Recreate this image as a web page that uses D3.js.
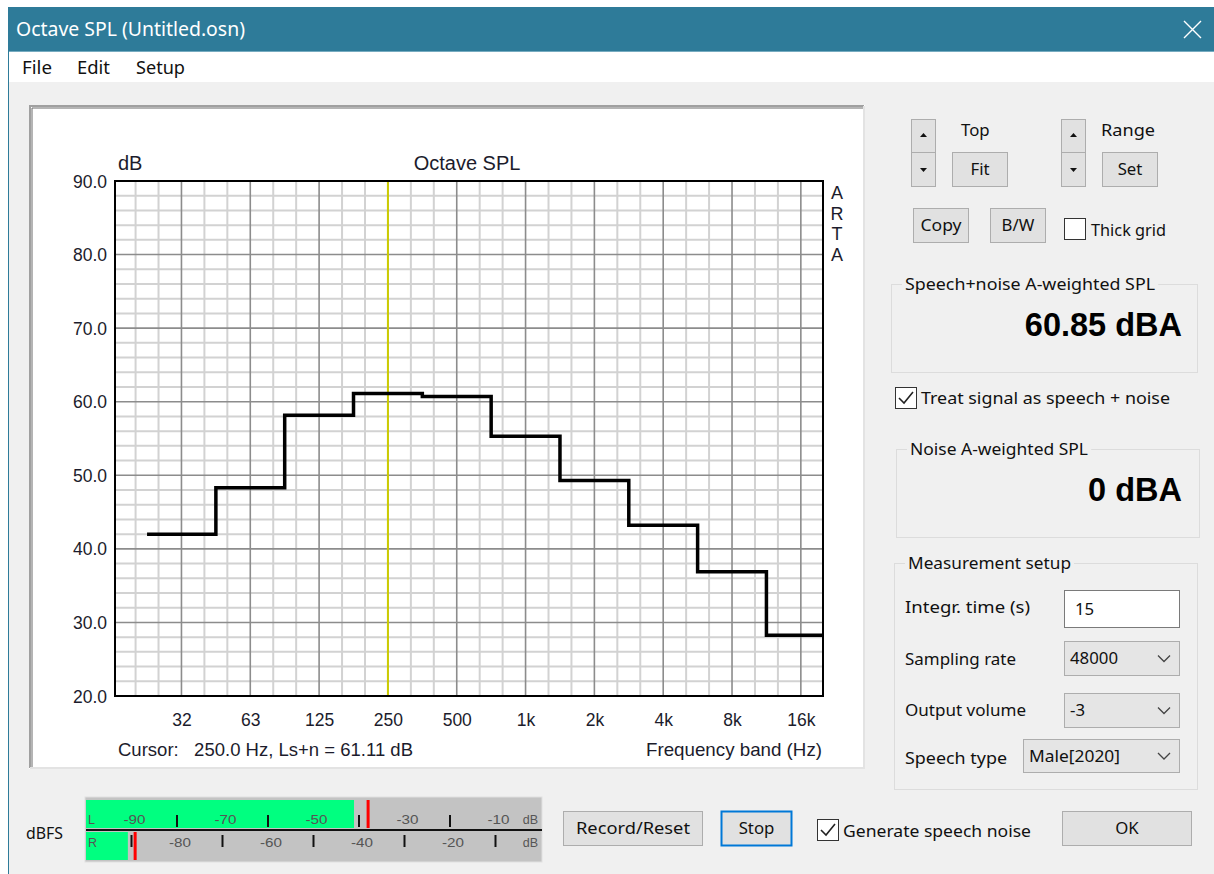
<!DOCTYPE html>
<html><head><meta charset="utf-8">
<script src="https://cdn.jsdelivr.net/npm/d3@7"></script>
<style>html,body{margin:0;padding:0;background:#fff;overflow:hidden}svg{display:block}text{white-space:pre}</style>
</head><body>
<script>
// ---------- data ----------
const bandCenters = [31.25, 62.5, 125, 250, 500, 1000, 2000, 4000, 8000, 16000];
const bandLabels  = ["32","63","125","250","500","1k","2k","4k","8k","16k"];
const bandLevels  = [42.0, 48.3, 58.15, 61.11, 60.7, 55.3, 49.3, 43.2, 36.9, 28.25];
const yTickValues = [20, 30, 40, 50, 60, 70, 80, 90];
const cursorFreq = 250;
const cursorText = "Cursor:   250.0 Hz, Ls+n = 61.11 dB";
const meterChannels = ["L", "R"];
const meterLevels = [-41.1, -90.8];
const meterPeaks  = [-38.0, -89.2];
const meterLabelsL = [-90, -70, -50, -30, -10];
const meterMarksL  = [-80, -60, -40, -20];
const meterLabelsR = [-80, -60, -40, -20];
const meterMarksR  = [-90, -70, -50, -30, -10];
const speechNoiseSPL = "60.85 dBA";
const noiseSPL = "0 dBA";

// ---------- setup ----------
const W = 1214, H = 874;
const UI = "'Noto Sans', 'Open Sans', sans-serif";
const CH = "'Liberation Sans', Arial, sans-serif";
const svg = d3.select("body").append("svg").attr("width", W).attr("height", H);

function text(g, x, y, s, o = {}) {
  const t = g.append("text").attr("x", x).attr("y", y).attr("dy", "0.35em")
    .attr("font-family", o.ff || UI).attr("font-size", o.fs || 16.8)
    .attr("font-weight", o.fw || "normal")
    .attr("fill", o.fill || "#111")
    .attr("text-anchor", o.anchor || "start").text(s);
  if (o.w) t.attr("textLength", o.w).attr("lengthAdjust", "spacingAndGlyphs");
  return t;
}
function button(g, x0, y0, x1, y1, label, o = {}) {
  g.append("rect").attr("x", x0 + 0.5).attr("y", y0 + 0.5).attr("width", x1 - x0 - 1).attr("height", y1 - y0 - 1)
    .attr("fill", "#e1e1e1").attr("stroke", o.stroke || "#adadad").attr("stroke-width", o.sw || 1);
  if (label) text(g, (x0 + x1) / 2, (y0 + y1) / 2, label, { anchor: "middle", w: o.w });
}
function checkbox(g, x0, y0, size, checked) {
  g.append("rect").attr("x", x0 + 0.5).attr("y", y0 + 0.5).attr("width", size - 1).attr("height", size - 1)
    .attr("fill", "#fff").attr("stroke", "#333").attr("stroke-width", 1);
  if (checked) g.append("path")
    .attr("d", `M${x0 + 4},${y0 + 11} L${x0 + 9},${y0 + 16} L${x0 + 18},${y0 + 5}`)
    .attr("fill", "none").attr("stroke", "#222").attr("stroke-width", 1.6);
}
function groupBox(g, x0, y0, x1, y1, label, lx, w) {
  g.append("rect").attr("x", x0 + 0.5).attr("y", y0 + 0.5).attr("width", x1 - x0).attr("height", y1 - y0)
    .attr("fill", "none").attr("stroke", "#dcdcdc");
  const t = text(g, lx, y0, label, { w });
  const bb = t.node().getBBox();
  g.insert("rect", () => t.node()).attr("x", bb.x - 3).attr("y", y0 - 2).attr("width", bb.width + 6).attr("height", 5).attr("fill", "#f0f0f0");
}
function combo(g, x0, y0, x1, y1, val, w) {
  g.append("rect").attr("x", x0 + 0.5).attr("y", y0 + 0.5).attr("width", x1 - x0 - 1).attr("height", y1 - y0 - 1)
    .attr("fill", "#e5e5e5").attr("stroke", "#adadad");
  const cy = (y0 + y1) / 2;
  text(g, x0 + 6, cy, val, { w });
  g.append("path").attr("d", `M${x1 - 22},${cy - 3} L${x1 - 16},${cy + 3} L${x1 - 10},${cy - 3}`)
    .attr("fill", "none").attr("stroke", "#444").attr("stroke-width", 1.3);
}

// ---------- window chrome ----------
svg.append("rect").attr("width", W).attr("height", H).attr("fill", "#fff");
svg.append("rect").attr("x", 8).attr("y", 7).attr("width", W - 8).attr("height", H - 7).attr("fill", "#f0f0f0");
svg.append("rect").attr("x", 8).attr("y", 7).attr("width", W - 8).attr("height", 44).attr("fill", "#2e7b99");
svg.append("rect").attr("x", 8).attr("y", 51).attr("width", W - 8).attr("height", 1).attr("fill", "#76abc0");
svg.append("rect").attr("x", 9).attr("y", 52).attr("width", W - 9).attr("height", 30).attr("fill", "#fff");
svg.append("rect").attr("x", 8).attr("y", 7).attr("width", 1).attr("height", H - 7).attr("fill", "#2e7b99");
text(svg, 16, 29, "Octave SPL (Untitled.osn)", { fs: 19, fill: "#fff", w: 229 });
svg.append("path").attr("d", "M1184,21 L1201,38 M1201,21 L1184,38").attr("stroke", "#fff").attr("stroke-width", 1.4);
text(svg, 22, 68, "File", { fs: 18, w: 30 });
text(svg, 77, 68, "Edit", { fs: 18, w: 33 });
text(svg, 136, 68, "Setup", { fs: 18, w: 49 });

// ---------- chart panel ----------
const panel = svg.append("g");
panel.append("rect").attr("x", 29).attr("y", 105).attr("width", 836).attr("height", 664).attr("fill", "#fff");
panel.append("path").attr("d", "M30,768 L30,106 L864,106").attr("fill", "none").attr("stroke", "#a0a0a0").attr("stroke-width", 2);
panel.append("path").attr("d", "M32,767 L32,108 L863,108").attr("fill", "none").attr("stroke", "#6a6a6a").attr("stroke-width", 1);
panel.append("path").attr("d", "M864,106 L864,768 L30,768").attr("fill", "none").attr("stroke", "#e3e3e3").attr("stroke-width", 2);

const plot = { left: 115, right: 823, top: 181, bottom: 696 };
const x = d3.scaleLog().domain([16, 20000]).range([plot.left, plot.right]);
const y = d3.scaleLinear().domain([20, 90]).range([plot.bottom, plot.top]);

const grid = svg.append("g");
const minorX = d3.range(-19, 13).map(k => 1000 * Math.pow(2, k / 3)).filter(f => f > 16.5 && f < 19800);
const majorXSet = new Set(bandCenters.map(f => Math.round(f * 100)));
const minorY = d3.range(22, 90, 2).filter(v => v % 10 !== 0);
grid.selectAll(".mx").data(minorX.filter(f => !majorXSet.has(Math.round(f * 100)))).join("line")
  .attr("x1", d => x(d)).attr("x2", d => x(d)).attr("y1", plot.top).attr("y2", plot.bottom)
  .attr("stroke", "#d2d2d2").attr("stroke-width", 2);
grid.selectAll(".my").data(minorY).join("line")
  .attr("x1", plot.left).attr("x2", plot.right).attr("y1", d => y(d)).attr("y2", d => y(d))
  .attr("stroke", "#d2d2d2").attr("stroke-width", 2);
grid.selectAll(".Mx").data(bandCenters).join("line")
  .attr("x1", d => x(d)).attr("x2", d => x(d)).attr("y1", plot.top).attr("y2", plot.bottom)
  .attr("stroke", "#8c8c8c").attr("stroke-width", 1.6);
grid.selectAll(".My").data(yTickValues.slice(1, -1)).join("line")
  .attr("x1", plot.left).attr("x2", plot.right).attr("y1", d => y(d)).attr("y2", d => y(d))
  .attr("stroke", "#8c8c8c").attr("stroke-width", 1.6);

// cursor
svg.append("line").attr("x1", x(cursorFreq)).attr("x2", x(cursorFreq)).attr("y1", plot.top).attr("y2", plot.bottom)
  .attr("stroke", "#cccc00").attr("stroke-width", 2);

// step line
const pts = [];
bandCenters.forEach((f, i) => {
  const lo = Math.max(f / Math.SQRT2, x.domain()[0]);
  const hi = Math.min(f * Math.SQRT2, x.domain()[1]);
  pts.push([lo, bandLevels[i]], [hi, bandLevels[i]]);
});
svg.append("path").datum(pts)
  .attr("d", d3.line().x(d => x(d[0])).y(d => y(d[1])))
  .attr("fill", "none").attr("stroke", "#000").attr("stroke-width", 3.5).attr("stroke-linejoin", "miter");

// frame
svg.append("rect").attr("x", plot.left).attr("y", plot.top).attr("width", plot.right - plot.left).attr("height", plot.bottom - plot.top)
  .attr("fill", "none").attr("stroke", "#000").attr("stroke-width", 2);

// axes
const tcol = "#1c1c2c";
const yAxis = svg.append("g").attr("transform", `translate(${plot.left},0)`)
  .call(d3.axisLeft(y).tickValues(yTickValues).tickFormat(d3.format(".1f")).tickSize(0).tickPadding(8));
yAxis.select(".domain").remove();
yAxis.selectAll("text").attr("font-family", CH).attr("font-size", 17.5).attr("fill", tcol).attr("dy", "0.35em");
const xAxis = svg.append("g").attr("transform", `translate(0,${plot.bottom})`)
  .call(d3.axisBottom(x).tickValues(bandCenters).tickFormat((d, i) => bandLabels[i]).tickSize(0));
xAxis.select(".domain").remove();
xAxis.selectAll("text").attr("font-family", CH).attr("font-size", 17.5).attr("fill", tcol).attr("y", 24).attr("dy", "0.35em");

text(svg, 118, 163, "dB", { ff: CH, fs: 20, fill: tcol });
text(svg, 467, 163, "Octave SPL", { ff: CH, fs: 20, fill: tcol, anchor: "middle" });
["A", "R", "T", "A"].forEach((c, i) => text(svg, 837, 193 + i * 20.5, c, { ff: CH, fs: 18, fill: tcol, anchor: "middle" }));
text(svg, 118, 750, cursorText, { ff: CH, fs: 17.5, fill: tcol, w: 295 });
text(svg, 822, 750, "Frequency band (Hz)", { ff: CH, fs: 18.5, fill: tcol, anchor: "end", w: 176 });

// ---------- right controls ----------
const rc = svg.append("g");
function spin(x0) {
  button(rc, x0, 119, x0 + 25, 153);
  button(rc, x0, 152, x0 + 25, 187);
  const cx = x0 + 12.5;
  rc.append("path").attr("d", `M${cx - 3.5},${137} L${cx + 3.5},${137} L${cx},${133} Z`).attr("fill", "#111");
  rc.append("path").attr("d", `M${cx - 3.5},${168} L${cx + 3.5},${168} L${cx},${172} Z`).attr("fill", "#111");
}
spin(911); spin(1061);
text(rc, 961, 130, "Top");
text(rc, 1101, 130, "Range", { w: 54 });
button(rc, 952, 152, 1008, 187, "Fit");
button(rc, 1102, 152, 1158, 187, "Set");
button(rc, 913, 208, 969, 243, "Copy", { w: 41 });
button(rc, 990, 208, 1046, 243, "B/W");
checkbox(rc, 1064, 218, 22, false);
text(rc, 1091, 230, "Thick grid", { w: 75 });

groupBox(rc, 891, 284, 1197, 372, "Speech+noise A-weighted SPL", 905, 250);
text(rc, 1182, 325, speechNoiseSPL, { ff: CH, fs: 32.5, fw: "bold", anchor: "end", fill: "#000" });
checkbox(rc, 895, 387, 22, true);
text(rc, 921, 398, "Treat signal as speech + noise", { w: 249 });
groupBox(rc, 896, 449, 1199, 537, "Noise A-weighted SPL", 910, 178);
text(rc, 1182, 490, noiseSPL, { ff: CH, fs: 32.5, fw: "bold", anchor: "end", fill: "#000" });

groupBox(rc, 894, 563, 1197, 789, "Measurement setup", 908, 163);
text(rc, 905, 607, "Integr. time (s)", { w: 125 });
rc.append("rect").attr("x", 1064.5).attr("y", 590.5).attr("width", 115).attr("height", 37).attr("fill", "#fff").attr("stroke", "#7a7a7a");
text(rc, 1075, 609, "15");
text(rc, 905, 659, "Sampling rate", { w: 111 });
combo(rc, 1064, 641, 1180, 676, "48000");
text(rc, 905, 710, "Output volume", { w: 121 });
combo(rc, 1064, 693, 1180, 728, "-3");
text(rc, 905, 758, "Speech type", { w: 102 });
combo(rc, 1023, 739, 1180, 773, "Male[2020]", 91);

// ---------- bottom ----------
const bt = svg.append("g");
text(bt, 26, 833, "dBFS", { fs: 16.5, w: 37 });
const m = d3.scaleLinear().domain([-100, 0]).range([86, 541]);
bt.append("rect").attr("x", 85).attr("y", 797).attr("width", 457).attr("height", 65).attr("fill", "#c3c3c3").attr("stroke", "#e0e0e0");
const rows = [{ y0: 800, y1: 828, lab: 820, t0: 815, t1: 827, labels: meterLabelsL, marks: meterMarksL },
              { y0: 832, y1: 860, lab: 843, t0: 835, t1: 847, labels: meterLabelsR, marks: meterMarksR }];
meterChannels.forEach((ch, i) => {
  const r = rows[i];
  bt.append("rect").attr("x", m(-100)).attr("y", r.y0).attr("width", m(meterLevels[i]) - m(-100)).attr("height", r.y1 - r.y0).attr("fill", "#00ff80");
  bt.selectAll(null).data(r.labels).join("text").attr("x", d => m(d) + 3).attr("y", r.lab).attr("dy", "0.35em")
    .attr("text-anchor", "middle").attr("font-family", CH).attr("font-size", 12.5).attr("fill", "#555")
    .attr("textLength", 22).attr("lengthAdjust", "spacingAndGlyphs").text(d => d);
  bt.selectAll(null).data(r.marks).join("line").attr("x1", d => m(d)).attr("x2", d => m(d)).attr("y1", r.t0).attr("y2", r.t1)
    .attr("stroke", "#111").attr("stroke-width", 2);
  text(bt, 88, r.lab, ch, { ff: CH, fs: 12.5, fill: "#555" });
  text(bt, 538, r.lab, "dB", { ff: CH, fs: 12.5, fill: "#555", anchor: "end" });
  bt.append("rect").attr("x", m(meterPeaks[i]) - 1.5).attr("y", r.y0).attr("width", 3).attr("height", r.y1 - r.y0).attr("fill", "#ff0000");
});
bt.append("line").attr("x1", 86).attr("x2", 542).attr("y1", 830).attr("y2", 830).attr("stroke", "#111").attr("stroke-width", 2);

button(bt, 563, 811, 703, 846, "Record/Reset", { w: 114 });
button(bt, 721, 811, 792, 846, "Stop", { stroke: "#0078d7", sw: 2 });
checkbox(bt, 817, 819, 22, true);
text(bt, 843, 831, "Generate speech noise", { w: 188 });
button(bt, 1062, 811, 1192, 846, "OK");
</script>
</body></html>
